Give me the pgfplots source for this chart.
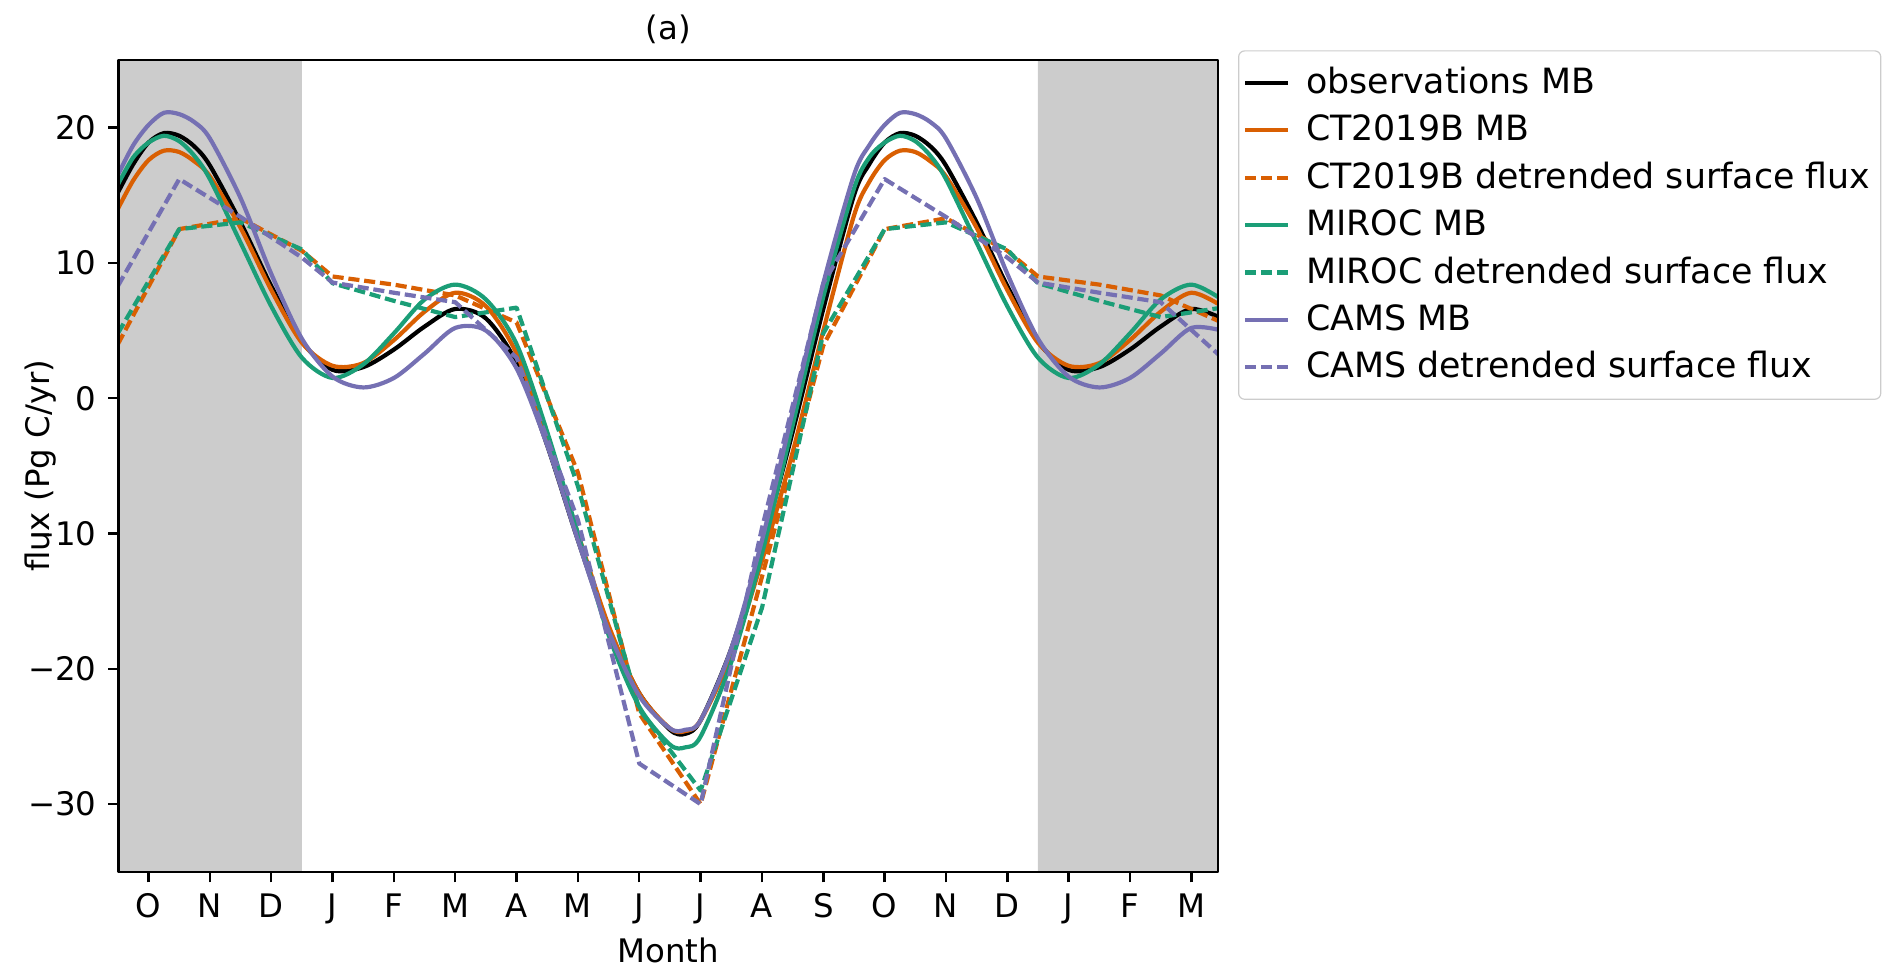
\documentclass[border=0pt]{standalone}
\usepackage{fontspec}
\setmainfont{DejaVu Sans}
\usepackage{pgfplots}
\pgfplotsset{compat=1.18}
\definecolor{cOrange}{HTML}{D95F02}
\definecolor{cGreen}{HTML}{1B9E77}
\definecolor{cPurple}{HTML}{7570B3}
\definecolor{shadegray}{HTML}{CCCCCC}
\newcommand{\ff}{\fontsize{10.8}{13}\selectfont}
\newcommand{\lf}{\fontsize{11.6}{14}\selectfont}

\begin{document}
\begin{tikzpicture}
\ff
\path[use as bounding box] (0,0) rectangle (629.33pt,322pt);
\begin{axis}[
  at={(39.5pt,31.4pt)}, anchor=south west,
  scale only axis, width=366.4pt, height=270.6pt,
  xmin=-0.49, xmax=17.43, ymin=-35, ymax=25,
  xtick={0,1,2,3,4,5,6,7,8,9,10,11,12,13,14,15,16,17},
  xticklabels={O,N,D,J,F,M,A,M,J,J,A,S,O,N,D,J,F,M},
  ytick={-30,-20,-10,0,10,20},
  yticklabels={−30,−20,−10,0,10,20},
  tick pos=left,
  tick align=outside, major tick length=3.5pt,
  tick style={black, line width=0.8pt},
  axis line style={line width=0.8pt},
  axis on top,
  every tick label/.append style={font=\ff},
  title={(a)},
  every axis title shift=0pt,
  title style={at={(axis description cs:0.5,1.0255)}, anchor=base, font=\ff},
  xlabel={Month},
  every axis x label/.style={at={(axis description cs:0.5,-0.112)}, anchor=base, font=\ff},
  ylabel={flux (Pg C/yr)},
  every axis y label/.style={at={(axis description cs:-0.071,0.5)}, rotate=90, anchor=center, font=\ff},
  legend style={at={(1.0185,1.012)}, anchor=north west, draw=black!20, rounded corners=2pt, fill=white,
     font=\lf, inner xsep=1.5pt, inner ysep=3.5pt, row sep=1.45pt},
  legend cell align=left,
  legend image code/.code={\draw[#1] (0pt,0pt) -- (14.3pt,0pt); \path (17.6pt,0pt);},
  line join=round,
]
% shaded periods
\addplot[fill=shadegray, draw=none, forget plot] coordinates {(-1,-40) (2.5,-40) (2.5,30) (-1,30) (-1,-40)};
\addplot[fill=shadegray, draw=none, forget plot] coordinates {(14.5,-40) (18,-40) (18,30) (14.5,30) (14.5,-40)};

% observations MB
\addplot[black, line width=1.4pt, smooth] coordinates {
(-0.5,15.2) (-0.25,17.3) (0,18.9) (0.25,19.6) (0.5,19.4) (0.75,18.6) (1,17.2) (1.5,13.0) (2,8.3) (2.5,4.2) (3,2.1) (3.5,2.3)
(4,3.6) (4.5,5.3) (5,6.6) (5.5,5.9) (6,2.6) (6.5,-3.5) (7,-10.5) (7.5,-17) (8,-21.8) (8.5,-24.5)
(8.75,-24.8) (9,-23.8) (9.5,-18.5) (10,-11) (10.5,-2.5) (11,6.6) (11.5,15.0) (11.75,17.3) (12,18.9) (12.25,19.6)
(12.5,19.4) (12.75,18.6) (13,17.2) (13.5,13.0) (14,8.3) (14.5,4.2) (15,2.1) (15.5,2.3) (16,3.6) (16.5,5.3)
(17,6.6) (17.5,5.9)};
\addlegendentry{observations MB}

% CT2019B MB
\addplot[cOrange, line width=1.4pt, smooth] coordinates {
(-0.5,14.0) (-0.25,16.1) (0,17.6) (0.25,18.3) (0.5,18.2) (0.75,17.5) (1,16.4) (1.5,12.6) (2,8.0) (2.5,4.1) (3,2.4) (3.5,2.6)
(4,4.3) (4.5,6.4) (5,7.8) (5.5,6.8) (6,3.3) (6.5,-3.0) (7,-10) (7.5,-16.8) (8,-21.8) (8.5,-24.4)
(8.75,-24.6) (9,-23.8) (9.5,-19) (10,-12) (10.5,-4.0) (11,5.0) (11.5,13.5) (11.75,16.0) (12,17.6) (12.25,18.3)
(12.5,18.2) (12.75,17.5) (13,16.4) (13.5,12.6) (14,8.0) (14.5,4.1) (15,2.4) (15.5,2.6) (16,4.3) (16.5,6.4)
(17,7.8) (17.5,6.8)};
\addlegendentry{CT2019B MB}

% CT2019B detrended surface flux
\addplot[cOrange, line width=1.4pt, dash pattern=on 3.7pt off 1.6pt] coordinates {
(-0.5,4.0) (0.5,12.5) (1.5,13.3) (2.5,10.9) (3,9.0) (4,8.4) (5,7.6) (6,5.6) (7,-5.5) (8,-23.3)
(9,-30) (10,-13.2) (11,3.9) (12,12.5) (13,13.3) (14,10.9) (14.5,9.0) (15.5,8.4) (16.5,7.6) (17.5,5.6)};
\addlegendentry{CT2019B detrended surface flux}

% MIROC MB
\addplot[cGreen, line width=1.4pt, smooth] coordinates {
(-0.5,15.8) (-0.25,17.8) (0,18.9) (0.25,19.4) (0.5,19.0) (0.75,17.9) (1,16.2) (1.5,11.5) (2,6.8) (2.5,3.0) (3,1.5) (3.5,2.5)
(4,4.8) (4.5,7.3) (5,8.4) (5.5,7.3) (6,4.0) (6.5,-2.5) (7,-10) (7.5,-17.5) (8,-22.8) (8.5,-25.6)
(8.75,-25.8) (9,-25) (9.5,-19.5) (10,-11.5) (10.5,-2) (11,7.5) (11.5,15.5) (11.75,17.8) (12,18.9) (12.25,19.4)
(12.5,19.0) (12.75,17.9) (13,16.2) (13.5,11.5) (14,6.8) (14.5,3.0) (15,1.5) (15.5,2.5) (16,4.8) (16.5,7.3)
(17,8.4) (17.5,7.3)};
\addlegendentry{MIROC MB}

% MIROC detrended surface flux
\addplot[cGreen, line width=1.4pt, dash pattern=on 3.7pt off 1.6pt] coordinates {
(-0.5,4.8) (0.5,12.5) (1.5,13.0) (2.5,11.0) (3,8.5) (4,7.2) (5,6.0) (6,6.7) (7,-6.5) (8,-23)
(9,-29) (10,-15.5) (11,4.8) (12,12.5) (13,13.0) (14,11.0) (14.5,8.5) (15.5,7.2) (16.5,6.0) (17.5,6.7)};
\addlegendentry{MIROC detrended surface flux}

% CAMS MB
\addplot[cPurple, line width=1.4pt, smooth] coordinates {
(-0.5,16.5) (-0.25,18.7) (0,20.2) (0.25,21.1) (0.5,21.0) (0.75,20.4) (1,19.2) (1.5,14.8) (2,9.2) (2.5,4.4) (3,1.6) (3.5,0.8)
(4,1.5) (4.5,3.3) (5,5.2) (5.5,5.0) (6,2.2) (6.5,-3.5) (7,-10.5) (7.5,-17.2) (8,-22)
(8.5,-24.4) (8.75,-24.5) (9,-23.8) (9.5,-18.5) (10,-10.5) (10.5,-1) (11,8.5) (11.5,16.5) (11.75,18.7) (12,20.2)
(12.25,21.1) (12.5,21.0) (12.75,20.4) (13,19.2) (13.5,14.8) (14,9.2) (14.5,4.4) (15,1.6) (15.5,0.8) (16,1.5)
(16.5,3.3) (17,5.2) (17.5,5.0)};
\addlegendentry{CAMS MB}

% CAMS detrended surface flux
\addplot[cPurple, line width=1.4pt, dash pattern=on 3.7pt off 1.6pt] coordinates {
(-0.5,8.3) (0.5,16.2) (1.5,13.4) (2.5,10.4) (3,8.55) (4,7.8) (5,7.1) (6,3.0) (7,-9.0) (8,-27)
(9,-30) (10,-9.6) (11,8.5) (12,16.2) (13,13.4) (14,10.4) (14.5,8.55) (15.5,7.8) (16.5,7.1) (17.5,3.0)};
\addlegendentry{CAMS detrended surface flux}
\end{axis}
\end{tikzpicture}
\end{document}
